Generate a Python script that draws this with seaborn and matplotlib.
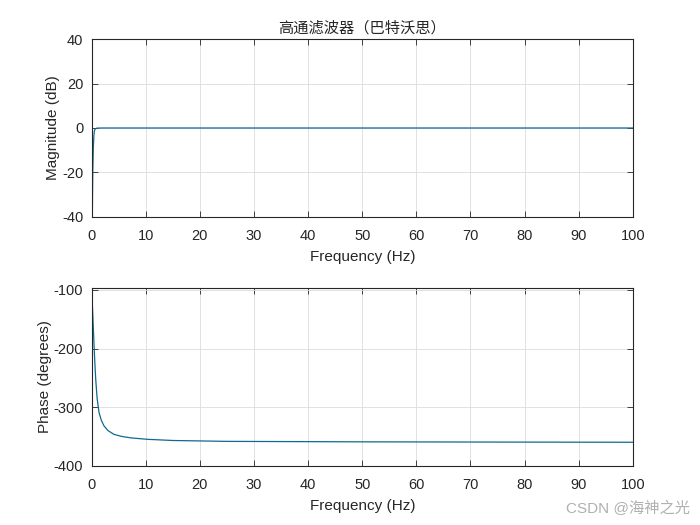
import matplotlib
matplotlib.use("Agg")
import matplotlib.pyplot as plt
import seaborn as sns
import pandas as pd

# Magnitude response (dB)
mag_freq = [0.05, 0.10, 0.15, 0.20, 0.30, 0.40, 0.50, 0.70, 1.0, 2.0, 5.0, 10.0, 50.0, 100.0]
mag_db = [-70.0, -45.0, -30.0, -20.0, -9.0, -3.5, -1.2, -0.3, -0.05, 0.0, 0.0, 0.0, 0.0, 0.0]

# Phase response (degrees)
ph_freq = [0.0, 0.10, 0.20, 0.30, 0.43, 0.60, 0.74, 1.0, 1.35, 1.8, 2.27, 3.0, 4.1, 5.5, 7.2, 10.3, 15.0, 25.0, 50.0, 75.0, 100.0]
ph_deg = [-97.0, -120.0, -142.0, -165.0, -194.0, -228.0, -252.0, -285.0, -309.0, -323.0, -332.0, -340.0, -346.5, -350.0, -352.5, -355.0, -357.0, -358.5, -359.3, -359.7, -360.0]

title_text = "高通滤波器（巴特沃思）"
xlabel_text = "Frequency (Hz)"
ylabel_mag = "Magnitude (dB)"
ylabel_ph = "Phase (degrees)"
watermark = "CSDN @海神之光"

sns.set_theme(style="white")
plt.rcParams['font.family'] = ['Liberation Sans', 'Noto Sans CJK SC', 'DejaVu Sans']
plt.rcParams['axes.unicode_minus'] = False

line_color = "#0e6a8e"
fig = plt.figure(figsize=(7, 5.25), dpi=100)
ax1 = fig.add_axes([0.131, 0.5872, 0.773, 0.338])
ax2 = fig.add_axes([0.131, 0.1130, 0.773, 0.338])

df_mag = pd.DataFrame({"f": mag_freq, "m": mag_db})
df_ph = pd.DataFrame({"f": ph_freq, "p": ph_deg})

sns.lineplot(data=df_mag, x="f", y="m", ax=ax1, color=line_color, lw=0.9, estimator=None, sort=False)
sns.lineplot(data=df_ph, x="f", y="p", ax=ax2, color=line_color, lw=0.9, estimator=None, sort=False)

ax1.set_xlim(0, 100)
ax1.set_ylim(-40, 40)
ax1.set_yticks([-40, -20, 0, 20, 40])
ax2.set_xlim(0, 100)
ax2.set_ylim(-400, -97)
ax2.set_yticks([-400, -300, -200, -100])

for ax, yl in ((ax1, ylabel_mag), (ax2, ylabel_ph)):
    ax.set_xticks(range(0, 101, 10))
    ax.grid(True, color="#dcdcdc", lw=0.6)
    ax.set_axisbelow(True)
    ax.tick_params(direction="in", length=4, width=0.6, labelsize=10.5,
                   top=True, right=True, bottom=True, left=True,
                   colors="#262626")
    ax.tick_params(axis="x", pad=9)
    ax.tick_params(axis="y", pad=6)
    for s in ax.spines.values():
        s.set_color("#262626")
        s.set_linewidth(0.8)
    ax.set_xlabel(xlabel_text, fontsize=11, color="#262626", labelpad=5)
    ax.set_ylabel(yl, fontsize=11, color="#262626", labelpad=1.5)
    ax.set_facecolor("white")

ax1.set_title(title_text, fontsize=11, family=['Noto Sans CJK SC', 'DejaVu Sans'], color="#262626", pad=5)

fig.text(0.985, 0.032, watermark, ha="right", va="center", fontsize=11,
         color="#b0b0b0", family=['Liberation Sans', 'Noto Sans CJK SC'])

fig.savefig("out.png", dpi=100, facecolor="white")
